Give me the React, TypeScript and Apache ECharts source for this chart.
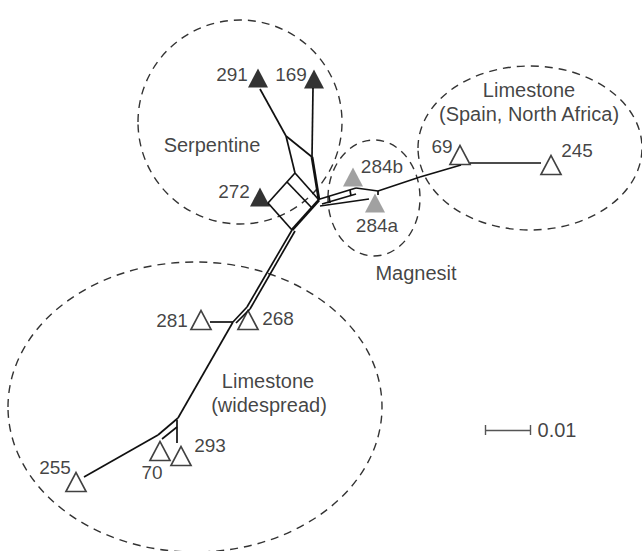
import React, { useEffect, useRef } from "react";
import * as echarts from "echarts";

// ---- Network nodes (diagram units: x right, y down) ----
const nodes: Record<string, [number, number]> = {
  t291: [260, 89],
  n1: [286, 136],
  t169: [313, 88],
  n2: [312, 157],
  n3: [295, 173],
  hub: [319, 200],
  bl: [268, 203],
  bb: [292, 230],
  i1: [287, 182],
  i2: [312, 208],
  hubUp: [320, 199],
  hubMid: [322, 204],
  hubLow: [320, 206],
  b1: [356, 188],
  b1m: [356, 194],
  a284: [369, 199],
  tk1a: [329, 196],
  tk1b: [330, 203],
  tk2a: [350, 190],
  tk2b: [351, 196],
  x2: [378, 191],
  x2t: [378, 195],
  x3: [420, 177],
  t69: [461, 165],
  t69r: [470, 163],
  t245l: [541, 163],
  bb2: [295, 231],
  s1: [247, 307],
  s1b: [250, 309],
  j281: [233, 322],
  j281b: [236, 323],
  t281: [210, 322],
  A: [178, 418],
  C: [158, 435],
  v293a: [177, 420],
  v293b: [177, 443],
  p70a: [177, 427],
  p70b: [162, 439],
  t255: [84, 477],
};

const thinEdges: [string, string][] = [
  ["t291", "n1"], ["n1", "n2"], ["n1", "n3"], ["t169", "n2"],
  ["n3", "hub"], ["n3", "bl"], ["bl", "bb"], ["i1", "i2"],
  ["hubUp", "b1"], ["hubMid", "b1m"], ["hubLow", "a284"],
  ["tk1a", "tk1b"], ["tk2a", "tk2b"],
  ["b1", "x2"], ["x2", "x2t"], ["x2", "x3"], ["x3", "t69"], ["t69r", "t245l"],
  ["bb", "s1"], ["bb2", "s1b"], ["s1", "j281"], ["s1b", "j281b"],
  ["t281", "j281"], ["j281", "A"], ["A", "C"], ["v293a", "v293b"],
  ["p70a", "p70b"], ["C", "t255"],
];

const heavyEdges: [string, string][] = [["n2", "hub"], ["hub", "bb"]];

// ---- Taxa (triangles) ----
const taxonIds = ["291", "169", "272", "284b", "284a", "69", "245", "281", "268", "70", "293", "255"];
const taxonX = [258, 314, 260, 353, 375, 460, 551, 201, 248, 160, 181, 76];
const taxonY = [78, 79, 197, 177, 203, 155, 165, 320, 320, 451, 456, 482];
const taxonRock = [
  "serpentine", "serpentine", "serpentine", "magnesite", "magnesite",
  "limestone", "limestone", "limestone", "limestone", "limestone", "limestone", "limestone",
];
const labelX = [232, 291, 234, 382, 377, 442, 577, 172, 278, 152, 210, 55];
const labelY = [74, 74, 191, 166, 225, 146, 150, 320, 318, 472, 445, 467];

// ---- Group labels and outlines ----
const regionTexts = ["Serpentine", "Magnesit", "Limestone", "(Spain, North Africa)", "Limestone", "(widespread)"];
const regionX = [212, 416, 529, 529, 268, 269];
const regionY = [145, 273, 90, 114, 381, 405];

const groupNames = ["Serpentine", "Magnesit", "Limestone (Spain, North Africa)", "Limestone (widespread)"];
const groupCx = [240, 374, 530, 195];
const groupCy = [122, 198, 148, 407];
const groupRx = [102, 46, 112, 187];
const groupRy = [102, 58, 82, 145];

// ---- Scale bar ----
const scaleLabel = "0.01";
const scaleFrom: [number, number] = [485, 430];
const scaleTo: [number, number] = [530, 430];
const scaleLabelPos: [number, number] = [557, 430];

const FONT = "'Liberation Sans', Arial, Helvetica, sans-serif";

export default function App() {
  const ref = useRef<HTMLDivElement>(null);

  useEffect(() => {
    if (!ref.current) return;
    const chart = echarts.init(ref.current, undefined, { renderer: "svg" });

    const edgeData = (list: [string, string][]) =>
      list.map(([a, b]) => ({ coords: [nodes[a], nodes[b]] }));

    const triStyle = (rock: string) => {
      if (rock === "serpentine") return { color: "#000", borderColor: "#000", borderWidth: 0 };
      if (rock === "magnesite") return { color: "#8a8a8a", borderColor: "#8a8a8a", borderWidth: 0 };
      return { color: "#fff", borderColor: "#111", borderWidth: 1.7 };
    };

    chart.setOption({
      animation: false,
      backgroundColor: "#fff",
      grid: { left: 0, right: 0, top: 0, bottom: 0, containLabel: false },
      xAxis: { type: "value", min: 0, max: 642, show: false },
      yAxis: { type: "value", min: 0, max: 551, inverse: true, show: false },
      series: [
        {
          type: "lines",
          name: "edges",
          coordinateSystem: "cartesian2d",
          silent: true,
          z: 2,
          lineStyle: { color: "#111", width: 1.7, opacity: 1 },
          data: edgeData(thinEdges),
        },
        {
          type: "lines",
          name: "heavy",
          coordinateSystem: "cartesian2d",
          silent: true,
          z: 2,
          lineStyle: { color: "#111", width: 2.8, opacity: 1 },
          data: edgeData(heavyEdges),
        },
        {
          type: "lines",
          name: "scale",
          coordinateSystem: "cartesian2d",
          silent: true,
          z: 2,
          lineStyle: { color: "#555", width: 1.4, opacity: 1 },
          data: [
            { coords: [scaleFrom, scaleTo] },
            { coords: [[scaleFrom[0], scaleFrom[1] - 5], [scaleFrom[0], scaleFrom[1] + 5]] },
            { coords: [[scaleTo[0], scaleTo[1] - 5], [scaleTo[0], scaleTo[1] + 5]] },
          ],
        },
        {
          type: "scatter",
          name: "taxa",
          symbol: "triangle",
          symbolSize: [20, 19],
          z: 5,
          silent: true,
          data: taxonIds.map((id, i) => ({
            name: id,
            value: [taxonX[i], taxonY[i]],
            itemStyle: triStyle(taxonRock[i]),
          })),
        },
        {
          type: "scatter",
          name: "taxonLabels",
          symbolSize: 1,
          z: 6,
          silent: true,
          itemStyle: { color: "rgba(0,0,0,0)" },
          label: {
            show: true,
            position: "inside",
            formatter: "{b}",
            color: "#111",
            fontSize: 19,
            fontFamily: FONT,
          },
          data: taxonIds.map((id, i) => ({ name: id, value: [labelX[i], labelY[i]] })),
        },
        {
          type: "scatter",
          name: "regionLabels",
          symbolSize: 1,
          z: 6,
          silent: true,
          itemStyle: { color: "rgba(0,0,0,0)" },
          label: {
            show: true,
            position: "inside",
            formatter: "{b}",
            color: "#111",
            fontSize: 20,
            fontFamily: FONT,
          },
          data: [
            ...regionTexts.map((t, i) => ({ name: t, value: [regionX[i], regionY[i]] })),
            { name: scaleLabel, value: scaleLabelPos },
          ],
        },
      ],
    });

    const graphic = groupNames.map((g, i) => {
      const c = chart.convertToPixel({ gridIndex: 0 }, [groupCx[i], groupCy[i]]) as number[];
      const ex = chart.convertToPixel({ gridIndex: 0 }, [groupCx[i] + groupRx[i], groupCy[i]]) as number[];
      const ey = chart.convertToPixel({ gridIndex: 0 }, [groupCx[i], groupCy[i] + groupRy[i]]) as number[];
      return {
        type: "ellipse",
        id: "grp" + i,
        name: g,
        silent: true,
        z: 1,
        shape: { cx: c[0], cy: c[1], rx: Math.abs(ex[0] - c[0]), ry: Math.abs(ey[1] - c[1]) },
        style: { fill: "none", stroke: "#333", lineWidth: 1.4, lineDash: [8, 6] },
      };
    });
    chart.setOption({ graphic });

    return () => chart.dispose();
  }, []);

  return (
    <div
      ref={ref}
      style={{ position: "fixed", left: 0, top: 0, width: 642, height: 551, background: "#fff" }}
    />
  );
}
